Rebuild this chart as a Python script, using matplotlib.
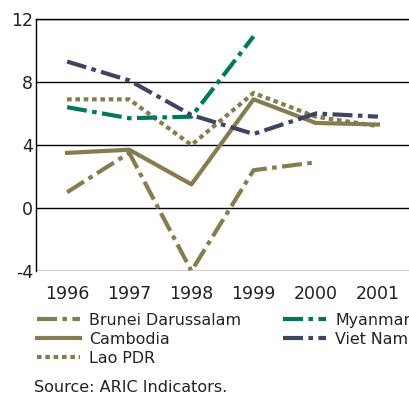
import matplotlib
matplotlib.use("Agg")
import matplotlib.pyplot as plt
import numpy as np

years = [1996, 1997, 1998, 1999, 2000, 2001]
brunei = [1.0, 3.5, -4.0, 2.4, 2.9]
cambodia = [3.5, 3.7, 1.5, 6.9, 5.4, 5.3]
lao = [6.9, 6.9, 4.0, 7.3, 5.8, 5.2]
myanmar = [6.4, 5.7, 5.8, 10.9]
vietnam = [9.3, 8.1, 5.9, 4.7, 6.0, 5.8]
yticks = [-4, 0, 4, 8, 12]

olive = "#877c50"
green = "#00795a"
navy = "#3d4561"

plt.rcParams['font.family'] = ['DejaVu Sans']
fig = plt.figure(figsize=(4.09, 4.01), dpi=100)
ax = fig.add_axes([36/409, 1-271/401, 1-36/409, 252/401])

dashdot = (0, (4.8, 1.3, 1.1, 1.3))
lw = 3.0
l1, = ax.plot(years[:len(brunei)], brunei, color=olive, lw=lw, linestyle=dashdot, label="Brunei Darussalam")
l2, = ax.plot(years, cambodia, color=olive, lw=lw, linestyle="-", label="Cambodia")
l3, = ax.plot(years, lao, color=olive, lw=lw, linestyle=(0, (1.1, 0.9)), label="Lao PDR")
l4, = ax.plot(years[:len(myanmar)], myanmar, color=green, lw=lw, linestyle=dashdot, label="Myanmar")
l5, = ax.plot(years, vietnam, color=navy, lw=lw, linestyle=dashdot, label="Viet Nam")

ax.set_xlim(1995.5, 2001.5)
ax.set_ylim(-4, 12)
ax.set_yticks(yticks)
ax.set_yticklabels([str(t) for t in yticks])
ax.set_xticks(years)
ax.yaxis.grid(True, color="black", lw=1.0)
ax.set_axisbelow(True)
for s in ["right", "bottom"]:
    ax.spines[s].set_visible(False)
ax.spines["top"].set_linewidth(1.0)
ax.spines["left"].set_linewidth(1.0)
ax.tick_params(axis="both", length=0, labelsize=12.5, colors="#222222")
ax.tick_params(axis="x", pad=10)
ax.tick_params(axis="y", pad=2)

common = dict(loc="upper left", frameon=False, fontsize=11.4, handlelength=2.7,
              handletextpad=0.6, labelspacing=0.25, borderpad=0, borderaxespad=0)
leg1 = fig.legend(handles=[l1, l2, l3], bbox_to_anchor=(37/409, 1-313/401), **common)
leg2 = fig.legend(handles=[l4, l5], bbox_to_anchor=(283/409, 1-313/401), **common)
for leg in (leg1, leg2):
    for t in leg.get_texts():
        t.set_color("#222222")

fig.text(34/409, 1-388/401, "Source: ARIC Indicators.", fontsize=11.5, color="#222222", va="center")

fig.savefig("out.png", dpi=100)
